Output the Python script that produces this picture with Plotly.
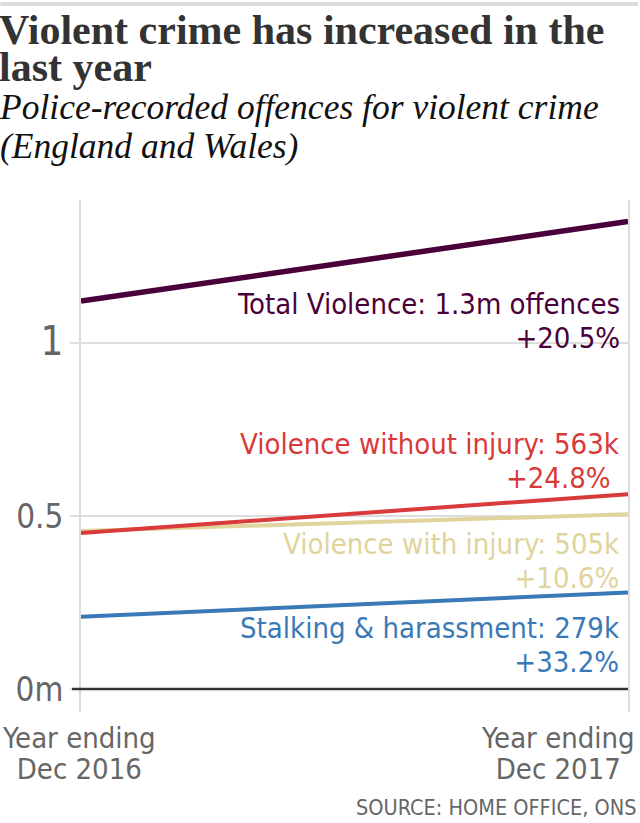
import plotly.graph_objects as go

# ---- data ----
period_line1 = ["Year ending", "Year ending"]
period_line2 = ["Dec 2016", "Dec 2017"]
series_names = ["Total Violence", "Violence without injury", "Violence with injury", "Stalking & harassment"]
total_violence = [1.121, 1.351]
violence_without_injury = [0.451, 0.563]
violence_with_injury = [0.457, 0.505]
stalking_harassment = [0.209, 0.279]
label_line1 = ["Total Violence: 1.3m offences", "Violence without injury: 563k",
               "Violence with injury: 505k", "Stalking & harassment: 279k"]
label_line2 = ["+20.5%", "+24.8%\u00a0", "+10.6%", "+33.2%"]
y_tick_vals = [0, 0.5, 1]
y_tick_text = ["0m", "0.5", "<span style='font-size:40px'>1</span>"]

colors = ["#4a0039", "#d93a3a", "#e0d49c", "#3a79b7"]
widths = [5.5, 4, 4, 4]

SANS = "Liberation Sans Narrow, DejaVu Sans Condensed, Arial Narrow, sans-serif"
SERIF = "Liberation Serif, DejaVu Serif, serif"
W, H = 640, 823
ML, MR, MT, MB = 81, 10, 200, 111
PH = H - MT - MB


def py(pix):
    """pixel row -> paper y"""
    return (H - MB - pix) / PH


def two_lines(a, b, size):
    return f"<span style='font-size:{size}px'>{a}</span><br><span style='font-size:{size}px'>{b}</span>"


xs = [0, 1]
fig = go.Figure()
order = [0, 2, 1, 3]
all_vals = [total_violence, violence_without_injury, violence_with_injury, stalking_harassment]
for i in order:
    fig.add_trace(go.Scatter(x=xs, y=all_vals[i], mode="lines", name=series_names[i],
                             line=dict(color=colors[i], width=widths[i]), hoverinfo="skip"))

ann = []
# title & subtitle (base font size sets line spacing, span sets glyph size)
ann.append(dict(text=two_lines("<b>Violent crime has increased in the</b>", "<b>last year</b>", 42),
                x=0, xref="paper", xshift=-ML - 3, y=py(5), yref="paper",
                xanchor="left", yanchor="top", align="left", showarrow=False,
                font=dict(family=SERIF, size=37 / 1.3, color="#333333")))
ann.append(dict(text=two_lines("<i>Police-recorded offences for violent crime</i>", "<i>(England and Wales)</i>", 35.5),
                x=0, xref="paper", xshift=-ML - 3, y=py(85), yref="paper",
                xanchor="left", yanchor="top", align="left", showarrow=False,
                font=dict(family=SERIF, size=39 / 1.3, color="#111111")))

# series labels (top pixel of each two-line block)
tops = [285, 425, 525, 609]
for i in range(4):
    ann.append(dict(text=two_lines(label_line1[i], label_line2[i], 29),
                    x=1, xref="paper", xshift=-6, xanchor="right", align="right",
                    y=py(tops[i]), yref="paper", yanchor="top", showarrow=False,
                    font=dict(family=SANS, size=34 / 1.3, color=colors[i])))

# x labels
for j, (l1, l2) in enumerate(zip(period_line1, period_line2)):
    xshift = -2 if j == 0 else -70
    ann.append(dict(text=two_lines(l1, l2, 29), x=j, xref="x", xanchor="center", xshift=xshift,
                    align="center", y=py(719), yref="paper", yanchor="top", showarrow=False,
                    font=dict(family=SANS, size=31 / 1.3, color="#666666")))

# source
ann.append(dict(text="SOURCE: HOME OFFICE, ONS", x=1, xref="paper", xanchor="right", xshift=10,
                y=py(807), yref="paper", yanchor="middle", showarrow=False,
                font=dict(family=SANS, size=21.5, color="#666666")))

shapes = [
    dict(type="rect", xref="paper", yref="paper", x0=-ML / (W - ML - MR), x1=1 + MR / (W - ML - MR),
         y0=py(2), y1=py(6), fillcolor="#dddddd", line=dict(width=0), layer="below"),
    dict(type="line", xref="paper", yref="y", x0=-9 / (W - ML - MR), x1=1, y0=0, y1=0,
         line=dict(color="#333333", width=2.5)),
]

fig.update_layout(
    width=W, height=H,
    margin=dict(l=ML, r=MR, t=MT, b=MB),
    paper_bgcolor="white", plot_bgcolor="white",
    showlegend=False,
    annotations=ann, shapes=shapes,
    xaxis=dict(range=[0, 1], showgrid=False, zeroline=False, showticklabels=False,
               ticks="", showline=False, fixedrange=True),
    yaxis=dict(range=[-23 / 346, 489 / 346], tickvals=y_tick_vals, ticktext=y_tick_text,
               showgrid=True, gridcolor="#dddddd", gridwidth=2, zeroline=False,
               showline=True, mirror=True, linecolor="#dddddd", linewidth=2,
               ticks="outside", ticklen=9, tickcolor="#dddddd", tickwidth=2,
               tickfont=dict(family=SANS, size=33, color="#666666"), fixedrange=True),
)

fig.write_html("out.html")
